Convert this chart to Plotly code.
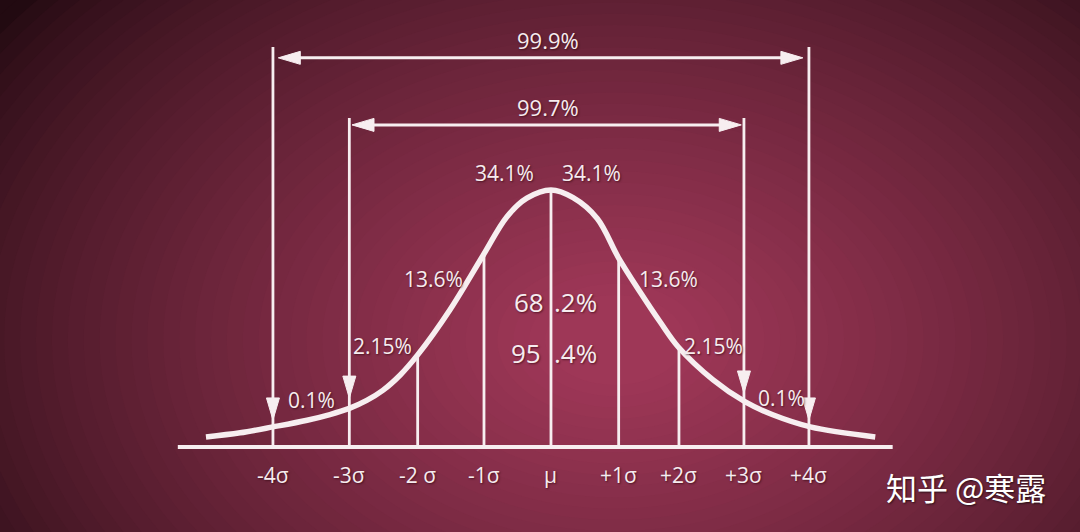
import plotly.graph_objects as go

# ---------------- data ----------------
# bell curve (x in sigma-ish units, y relative to peak height)
curve_x = [-5.15, -4.64, -4.15, -3.64, -3.30, -3.01, -2.75, -2.51, -2.25, -1.99, -1.51, -1.01,
           -0.66, -0.36, 0.0, 0.33, 0.69, 1.01, 1.33, 1.63, 1.90, 2.42, 2.90, 3.31, 3.87, 4.84]
curve_y = [0.039, 0.055, 0.078, 0.104, 0.126, 0.150, 0.181, 0.220, 0.280, 0.358, 0.533, 0.747,
           0.895, 0.968, 1.0, 0.970, 0.889, 0.735, 0.603, 0.486, 0.389, 0.261, 0.175, 0.125,
           0.078, 0.039]

tick_labels = ["-4σ", "-3σ", "-2 σ", "-1σ", "μ", "+1σ", "+2σ", "+3σ", "+4σ"]
tick_pos = [-4.15, -3.01, -1.99, -1.0, 0.0, 1.01, 1.91, 2.88, 3.85]
line_top = [1.556, 1.28, 0.358, 0.747, 1.0, 0.735, 0.385, 1.28, 1.556]
arrow_tip = [0.105, 0.19, None, None, None, None, None, 0.21, 0.105]

axis_span = [-5.57, 5.10]

# range arrows
range_labels = ["99.9%", "99.7%"]
range_left = [-4.07, -2.97]
range_right = [3.76, 2.84]
range_level = [1.514, 1.253]
range_text_y = [1.584, 1.323]

# area percentages
pct_text = ["34.1%", "34.1%", "13.6%", "13.6%", "2.15%", "2.15%", "0.1%", "0.1%"]
pct_x = [-0.69, 0.60, -1.75, 1.76, -2.52, 2.42, -3.57, 3.44]
pct_y = [1.066, 1.066, 0.653, 0.653, 0.393, 0.393, 0.183, 0.191]

big_text = ["68", ".2%", "95", ".4%"]
big_x = [-0.33, 0.37, -0.37, 0.37]
big_y = [0.564, 0.564, 0.366, 0.366]

watermark = "知乎 @寒露"

# ---------------- styling ----------------
W, H = 1080, 532
XR = [-8.224, 7.896]
YR = [-0.331, 1.739]
PX_X = W / (XR[1] - XR[0])   # pixels per x unit
PX_Y = H / (YR[1] - YR[0])   # pixels per y unit
WHITE = "#f7eef0"
TXT = "#f6ecef"
FONT = "Open Sans, Lato, DejaVu Sans, sans-serif"
SHADOW = "1px 1px 2px rgba(40,0,10,0.6)"
HEAD_L = 22   # arrowhead length px
HEAD_HW = 6.5  # arrowhead half width px

fig = go.Figure()

# background radial gradient (stacked ellipses)
outer = (34, 10, 17)
inner = (158, 55, 87)
cx, cy = 615, 340
N = 45
shapes = []
for i in range(N):
    t = i / (N - 1)
    rx = 770 * (1 - t) + 70 * t
    ry = 540 * (1 - t) + 45 * t
    tt = t ** 0.75
    c = tuple(int(round(outer[k] * (1 - tt) + inner[k] * tt)) for k in range(3))
    shapes.append(dict(type="circle", xref="paper", yref="paper", layer="below",
                       x0=(cx - rx) / W, x1=(cx + rx) / W,
                       y0=1 - (cy + ry) / H, y1=1 - (cy - ry) / H,
                       fillcolor="rgb(%d,%d,%d)" % c, line=dict(width=0)))


def line(xs, ys, w):
    fig.add_trace(go.Scatter(x=xs, y=ys, mode="lines", line=dict(color=WHITE, width=w),
                             hoverinfo="skip"))


def head(xt, yt, direction):
    dl_x = HEAD_L / PX_X
    dl_y = HEAD_L / PX_Y
    hw_x = HEAD_HW / PX_X
    hw_y = HEAD_HW / PX_Y
    if direction == "down":
        xs = [xt, xt - hw_x, xt + hw_x, xt]
        ys = [yt, yt + dl_y, yt + dl_y, yt]
    elif direction == "right":
        xs = [xt, xt - dl_x, xt - dl_x, xt]
        ys = [yt, yt + hw_y, yt - hw_y, yt]
    else:
        xs = [xt, xt + dl_x, xt + dl_x, xt]
        ys = [yt, yt + hw_y, yt - hw_y, yt]
    fig.add_trace(go.Scatter(x=xs, y=ys, mode="lines", fill="toself", fillcolor=WHITE,
                             line=dict(color=WHITE, width=1), hoverinfo="skip"))


# baseline
line(axis_span, [0, 0], 4)

# vertical lines
for xp, top in zip(tick_pos, line_top):
    line([xp, xp], [0, top], 2.8)

# bell curve
fig.add_trace(go.Scatter(x=curve_x, y=curve_y, mode="lines",
                         line=dict(color=WHITE, width=5.5, shape="spline", smoothing=1.0),
                         hoverinfo="skip"))

# vertical arrowheads
for xp, tip in zip(tick_pos, arrow_tip):
    if tip is not None:
        head(xp, tip, "down")

ann = []
# horizontal double arrows and labels
for lab, l, r, lv, ty in zip(range_labels, range_left, range_right, range_level, range_text_y):
    line([l + 5 / PX_X, r - 5 / PX_X], [lv, lv], 3)
    head(r, lv, "right")
    head(l, lv, "left")
    ann.append(dict(x=-0.045, y=ty, xref="x", yref="y", text=lab, showarrow=False,
                    font=dict(family=FONT, size=22, color=TXT, shadow=SHADOW)))
# percentages
for t, xp, yp in zip(pct_text, pct_x, pct_y):
    ann.append(dict(x=xp, y=yp, xref="x", yref="y", text=t, showarrow=False,
                    font=dict(family=FONT, size=21, color=TXT, shadow=SHADOW)))
for t, xp, yp in zip(big_text, big_x, big_y):
    ann.append(dict(x=xp, y=yp, xref="x", yref="y", text=t, showarrow=False,
                    font=dict(family=FONT, size=26, color=TXT, shadow=SHADOW)))
# tick labels
for t, xp in zip(tick_labels, tick_pos):
    ann.append(dict(x=xp, y=-0.109, xref="x", yref="y", text=t, showarrow=False,
                    font=dict(family=FONT, size=21, color=TXT, shadow=SHADOW)))
# watermark
ann.append(dict(x=966 / W, y=1 - 486 / H, xref="paper", yref="paper", text=watermark,
                xanchor="center", yanchor="middle", showarrow=False,
                font=dict(family="Noto Sans CJK SC, sans-serif", size=31, color="#ffffff",
                          shadow="1px 1px 2px rgba(0,0,0,0.6)")))

fig.update_layout(
    width=W, height=H,
    margin=dict(l=0, r=0, t=0, b=0),
    paper_bgcolor="rgb(%d,%d,%d)" % outer,
    plot_bgcolor="rgba(0,0,0,0)",
    showlegend=False,
    shapes=shapes,
    annotations=ann,
    xaxis=dict(range=XR, visible=False, fixedrange=True),
    yaxis=dict(range=YR, visible=False, fixedrange=True),
)

fig.write_html("out.html", config={"displayModeBar": False},
               post_script="document.body.style.margin='0';document.body.style.padding='0';")
